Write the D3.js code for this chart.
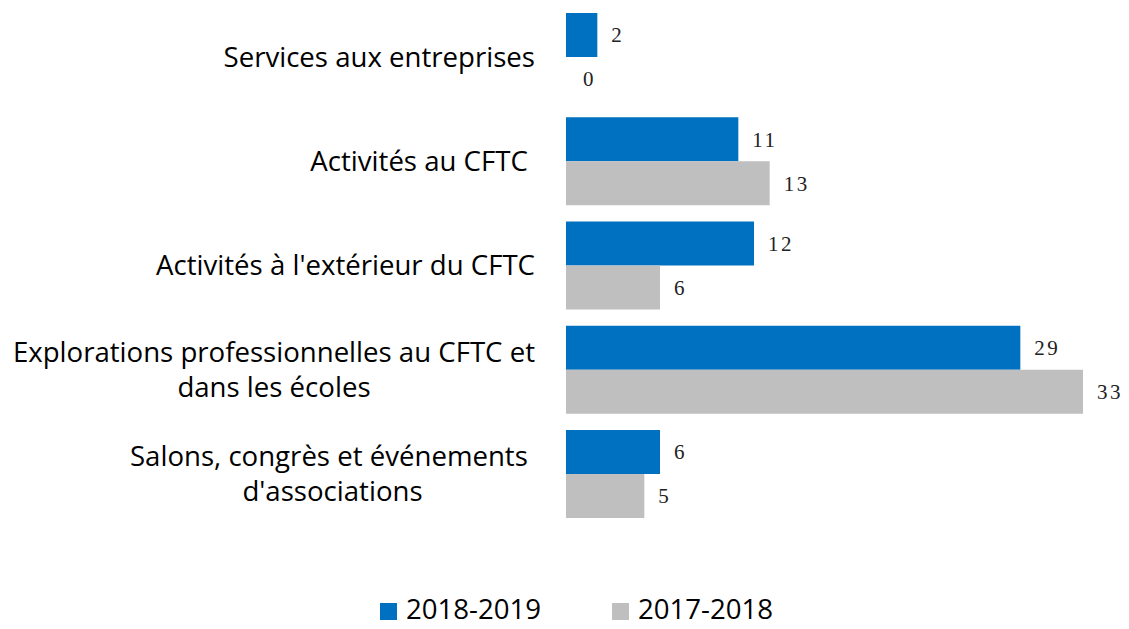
<!DOCTYPE html>
<html>
<head>
<meta charset="utf-8">
<script src="https://cdn.jsdelivr.net/npm/d3@7"></script>
<style>
  body { margin: 0; background: #fff; }
  svg { display: block; }
</style>
</head>
<body>
<svg width="1129" height="629"></svg>
<script>
// data
var categories = [
  ['Services aux entreprises'],
  ['Activités au CFTC '],
  ["Activités à l'extérieur du CFTC"],
  ['Explorations professionnelles au CFTC et', 'dans les écoles'],
  ['Salons, congrès et événements ', "d'associations"]
];
var seriesNames = ['2018-2019', '2017-2018'];
var values2018 = [2, 11, 12, 29, 6];
var values2017 = [0, 13, 6, 33, 5];
var colors = ['#0070C0', '#BFBFBF'];

var svg = d3.select('svg');
var labelFont = '"Open Sans", Lato, sans-serif';
var numFont = '"Liberation Serif", "DejaVu Serif", serif';

// scales
var x = d3.scaleLinear().domain([0, 33]).range([566, 1083]);
var y0 = d3.scaleBand()
  .domain(d3.range(categories.length))
  .range([13, 518])
  .paddingInner(0.156)
  .paddingOuter(0);
var y1 = d3.scaleBand().domain([0, 1]).range([0, y0.bandwidth()]);

var rows = categories.map(function(c, i) {
  return { i: i, lines: c, vals: [values2018[i], values2017[i]] };
});

var g = svg.append('g');

var grp = g.selectAll('.cat')
  .data(rows)
  .enter()
  .append('g')
  .attr('class', 'cat')
  .attr('transform', function(d) { return 'translate(0,' + y0(d.i) + ')'; });

// bars
grp.selectAll('rect')
  .data(function(d) { return d.vals.map(function(v, k) { return {v: v, k: k}; }); })
  .enter()
  .append('rect')
  .attr('x', x(0))
  .attr('y', function(d) { return y1(d.k); })
  .attr('width', function(d) { return x(d.v) - x(0); })
  .attr('height', y1.bandwidth())
  .attr('fill', function(d) { return colors[d.k]; });

// value labels
grp.selectAll('.val')
  .data(function(d) { return d.vals.map(function(v, k) { return {v: v, k: k}; }); })
  .enter()
  .append('text')
  .attr('class', 'val')
  .attr('x', function(d) { return x(d.v) + (d.v === 0 ? 17 : 14); })
  .attr('y', function(d) { return y1(d.k) + y1.bandwidth() / 2; })
  .attr('dy', '0.35em')
  .style('font-family', numFont)
  .style('font-size', '21px')
  .style('letter-spacing', '2.5px')
  .attr('fill', '#222')
  .text(function(d) { return d.v; });

// category labels, lines centred on the widest line, right edge at 535
var rightEdge = 535;
var lineH = 35;
grp.each(function(d) {
  var node = d3.select(this);
  var cy = y0.bandwidth() / 2;
  var t = node.append('text')
    .style('font-family', labelFont)
    .style('font-size', '27.6px')
    .style('white-space', 'pre')
    .attr('fill', '#000')
    .attr('text-anchor', 'middle');
  var spans = t.selectAll('tspan')
    .data(d.lines)
    .enter()
    .append('tspan')
    .attr('dy', '0.35em')
    .attr('y', function(l, j) { return cy + (j - (d.lines.length - 1) / 2) * lineH; })
    .text(function(l) { return l; });
  var w = 0;
  spans.each(function() { w = Math.max(w, this.getComputedTextLength()); });
  spans.attr('x', rightEdge - w / 2);
});

// legend
var legend = svg.append('g').attr('transform', 'translate(0,609)');
var legX = [380, 612];
var item = legend.selectAll('.leg')
  .data(seriesNames)
  .enter()
  .append('g')
  .attr('class', 'leg')
  .attr('transform', function(d, i) { return 'translate(' + legX[i] + ',0)'; });
item.append('rect')
  .attr('x', 0)
  .attr('y', -6)
  .attr('width', 17)
  .attr('height', 17)
  .attr('fill', function(d, i) { return colors[i]; });
item.append('text')
  .attr('x', 26)
  .attr('y', 0)
  .attr('dy', '0.35em')
  .style('font-family', labelFont)
  .style('font-size', '27.6px')
  .attr('fill', '#000')
  .text(function(d) { return d; });
</script>
</body>
</html>
